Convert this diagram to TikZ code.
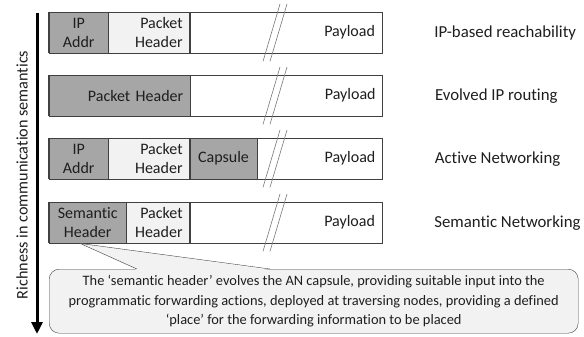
\documentclass[tikz,border=0pt]{standalone}
\usepackage{fontspec}
\setmainfont[Ligatures=NoCommon]{Carlito}
\usetikzlibrary{positioning,arrows.meta,calc}

\definecolor{cellDark}{RGB}{166,166,166}
\definecolor{cellLight}{RGB}{242,242,242}
\definecolor{edgeGray}{RGB}{64,64,64}
\definecolor{slashGray}{RGB}{120,120,120}
\definecolor{txtGray}{RGB}{30,30,30}

\tikzset{
  cell/.style={draw=edgeGray, minimum height=41pt, inner sep=0pt, text=txtGray,
    font=\fontsize{16}{19}\selectfont},
  darkcell/.style={cell, fill=cellDark, align=center},
  lightcell/.style={cell, fill=cellLight},
  rightcell/.style={minimum width=#1, text width=#1-14pt, inner xsep=7pt, align=right},
  payload/.style={cell, fill=white, rightcell=#1},
  slash/.style={draw=slashGray, line width=0.6pt},
  tag/.style={inner sep=0pt, text=txtGray, font=\fontsize{16.8}{20}\selectfont},
  callout/.style={draw=edgeGray, fill=cellLight, rounded corners=10pt, align=center,
    inner sep=0pt, text=txtGray, font=\fontsize{14.4}{19.5}\selectfont},
}

\begin{document}
\begin{tikzpicture}[x=1pt,y=-1pt]
  \useasboundingbox (0,0) rectangle (584,337);

  % fleche verticale et son titre
  \coordinate (axisTop) at (37,13);
  \coordinate (axisEnd) at (37,334);
  \draw[line width=3pt, -{Triangle[length=12pt,width=11pt]}] (axisTop) -- (axisEnd);
  \node[tag, font=\fontsize{16.2}{19}\selectfont, rotate=90] (axisLabel) at (22,175)
    {Richness in communication semantics};

  % ligne 1 : IP
  \node[darkcell, minimum width=59pt, anchor=north west] (ipA) at (49,12) {IP\\Addr};
  \node[lightcell, rightcell=81pt, right=0pt of ipA] (phA) {Packet\\Header};
  \node[payload=192pt, right=0pt of phA] (plA) {Payload};
  \node[tag, right=52pt of plA] (tagA) {IP-based reachability};

  % ligne 2 : routage IP
  \node[cell, fill=cellDark, rightcell=141pt, anchor=north west] (phB) at (49,75) {Packet Header};
  \node[payload=192pt, right=0pt of phB] (plB) {Payload};
  \node[tag, right=52pt of plB] (tagB) {Evolved IP routing};

  % ligne 3 : capsule
  \node[darkcell, minimum width=59pt, anchor=north west] (ipC) at (49,138) {IP\\Addr};
  \node[lightcell, rightcell=81pt, right=0pt of ipC] (phC) {Packet\\Header};
  \node[darkcell, minimum width=67pt, right=0pt of phC] (capC) {Capsule};
  \node[payload=125pt, right=0pt of capC] (plC) {Payload};
  \node[tag, right=52pt of plC] (tagC) {Active Networking};

  % ligne 4 : en-tete semantique
  \node[darkcell, minimum width=77pt, anchor=north west] (semD) at (49,202) {Semantic\\Header};
  \node[lightcell, rightcell=63pt, right=0pt of semD] (phD) {Packet\\Header};
  \node[payload=192pt, right=0pt of phD] (plD) {Payload};
  \node[tag, right=52pt of plD] (tagD) {Semantic Networking};

  % bord gauche plus epais
  \foreach \c in {ipA,phB,ipC,semD}
    \draw[edgeGray, line width=1.4pt] (\c.north west) -- (\c.south west);

  % coupure du payload
  \coordinate (brk) at (263,0);
  \foreach \r in {A,B,C,D}{
    \draw[slash] ($(pl\r.south -| brk)+(0,8)$) -- ($(pl\r.north -| brk)+(17,-8)$);
    \draw[slash] ($(pl\r.south -| brk)+(7,8)$) -- ($(pl\r.north -| brk)+(24,-8)$);
  }

  % bulle explicative
  \node[callout, minimum width=529pt, minimum height=64pt, anchor=north west] (note) at (49,269)
    {The ‘semantic header’ evolves the AN capsule, providing suitable input into the\\
     programmatic forwarding actions, deployed at traversing nodes, providing a defined\\
     ‘place’ for the forwarding information to be placed};
  \coordinate (tip) at ($(semD.south west)+(31,0)$);
  \fill[cellLight] ([xshift=88pt,yshift=-1pt]note.north west) -- (tip)
    -- ([xshift=221pt,yshift=-1pt]note.north west) -- cycle;
  \draw[edgeGray] ([xshift=88pt]note.north west) -- (tip) -- ([xshift=221pt]note.north west);
\end{tikzpicture}
\end{document}
